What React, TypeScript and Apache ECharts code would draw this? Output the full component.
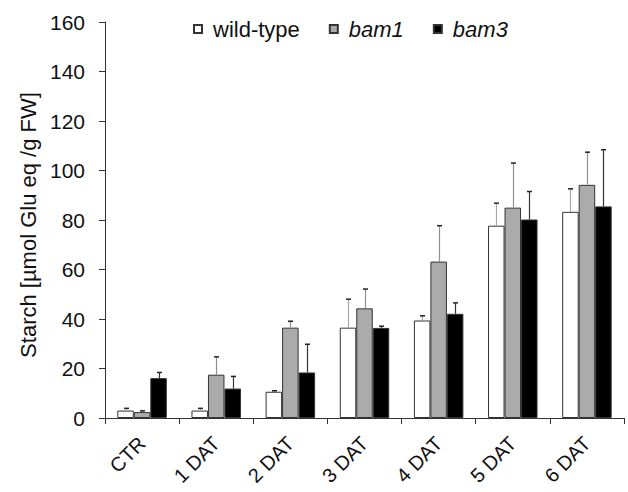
import React, { useEffect, useRef } from "react";
import * as echarts from "echarts";

const categories = ["CTR", "1 DAT", "2 DAT", "3 DAT", "4 DAT", "5 DAT", "6 DAT"];
const seriesNames = ["wild-type", "bam1", "bam3"];
const wildType = [3.0, 3.0, 10.6, 36.5, 39.4, 77.7, 83.3];
const wildTypeTop = [3.9, 3.9, 11.0, 48.0, 41.3, 86.8, 92.6];
const bam1 = [2.4, 17.5, 36.5, 44.3, 63.2, 85.0, 94.2];
const bam1Top = [2.9, 24.7, 39.1, 52.1, 77.7, 103.0, 107.4];
const bam3 = [16.1, 11.9, 18.4, 36.4, 42.1, 80.2, 85.5];
const bam3Top = [18.4, 16.8, 29.8, 37.1, 46.5, 91.5, 108.4];
const yTicks = [0, 20, 40, 60, 80, 100, 120, 140, 160];

const FONT = "Liberation Sans, Arial, Helvetica, sans-serif";
const BAR_W = 16.5;

export default function App() {
  const ref = useRef<HTMLDivElement>(null);
  useEffect(() => {
    if (!ref.current) return;
    const chart = echarts.init(ref.current, null, { renderer: "svg" });
    const values = [wildType, bam1, bam3];
    const tops = [wildTypeTop, bam1Top, bam3Top];
    const fills = ["#ffffff", "#ababab", "#000000"];
    const whisk = ["#a8a8a8", "#909090", "#333333"];
    const offsets = [-BAR_W, 0, BAR_W];

    const barSeries = seriesNames.map((name, i) => ({
      type: "bar",
      name,
      data: values[i],
      barWidth: BAR_W,
      barGap: "0%",
      itemStyle: { color: fills[i], borderColor: "#333", borderWidth: 1 },
      z: 2,
    }));

    const errSeries = seriesNames.map((name, i) => ({
      type: "custom",
      name: name + "-err",
      data: categories.map((_, k) => [k, values[i][k], tops[i][k]]),
      z: 3,
      renderItem: (params: any, api: any) => {
        const c = api.coord([api.value(0), api.value(1)]);
        const t = api.coord([api.value(0), api.value(2)]);
        const x = Math.round(c[0] + offsets[i]) + 0.5;
        return {
          type: "group",
          children: [
            {
              type: "line",
              shape: { x1: x, y1: c[1], x2: x, y2: t[1] },
              style: { stroke: whisk[i], lineWidth: 1.2 },
            },
            {
              type: "line",
              shape: { x1: x - 2.5, y1: t[1], x2: x + 2.5, y2: t[1] },
              style: { stroke: "#222", lineWidth: 1.5 },
            },
          ],
        };
      },
    }));

    chart.setOption({
      animation: false,
      backgroundColor: "#ffffff",
      textStyle: { fontFamily: FONT },
      grid: {
        left: 105,
        right: 4,
        top: 22,
        bottom: 74,
        containLabel: false,
        outerBoundsMode: "none",
      },
      legend: {
        data: seriesNames,
        left: 188,
        top: 13,
        itemWidth: 8,
        itemHeight: 8,
        itemGap: 29,
        icon: "rect",
        formatter: (name: string) => (name === "wild-type" ? name : `{i|${name}}`),
        textStyle: {
          fontFamily: FONT,
          fontSize: 22,
          color: "#111",
          padding: [0, 0, 0, 6],
          rich: { i: { fontStyle: "italic", fontSize: 22, fontFamily: FONT, color: "#111" } },
        },
      },
      xAxis: {
        type: "category",
        data: categories,
        boundaryGap: true,
        axisLine: { lineStyle: { color: "#333", width: 1 } },
        axisTick: { show: true, length: 6, alignWithLabel: false, lineStyle: { color: "#333" } },
        axisLabel: {
          rotate: 45,
          margin: 22,
          fontSize: 20,
          color: "#111",
          fontFamily: FONT,
          interval: 0,
        },
      },
      yAxis: {
        type: "value",
        min: yTicks[0],
        max: yTicks[yTicks.length - 1],
        interval: 20,
        name: "Starch [µmol Glu eq /g FW]",
        nameLocation: "middle",
        nameGap: 66,
        nameTextStyle: { fontSize: 22, color: "#111", fontFamily: FONT, padding: [0, 10, 0, 0] },
        axisLine: { show: true, lineStyle: { color: "#333", width: 1 } },
        axisTick: { show: true, length: 6, lineStyle: { color: "#333" } },
        axisLabel: { fontSize: 21, color: "#111", margin: 20, fontFamily: FONT },
        splitLine: { show: false },
      },
      series: [...barSeries, ...errSeries],
    });
    return () => chart.dispose();
  }, []);
  return (
    <div
      ref={ref}
      style={{ position: "fixed", left: 0, top: 0, width: 628, height: 492, background: "#fff" }}
    />
  );
}
